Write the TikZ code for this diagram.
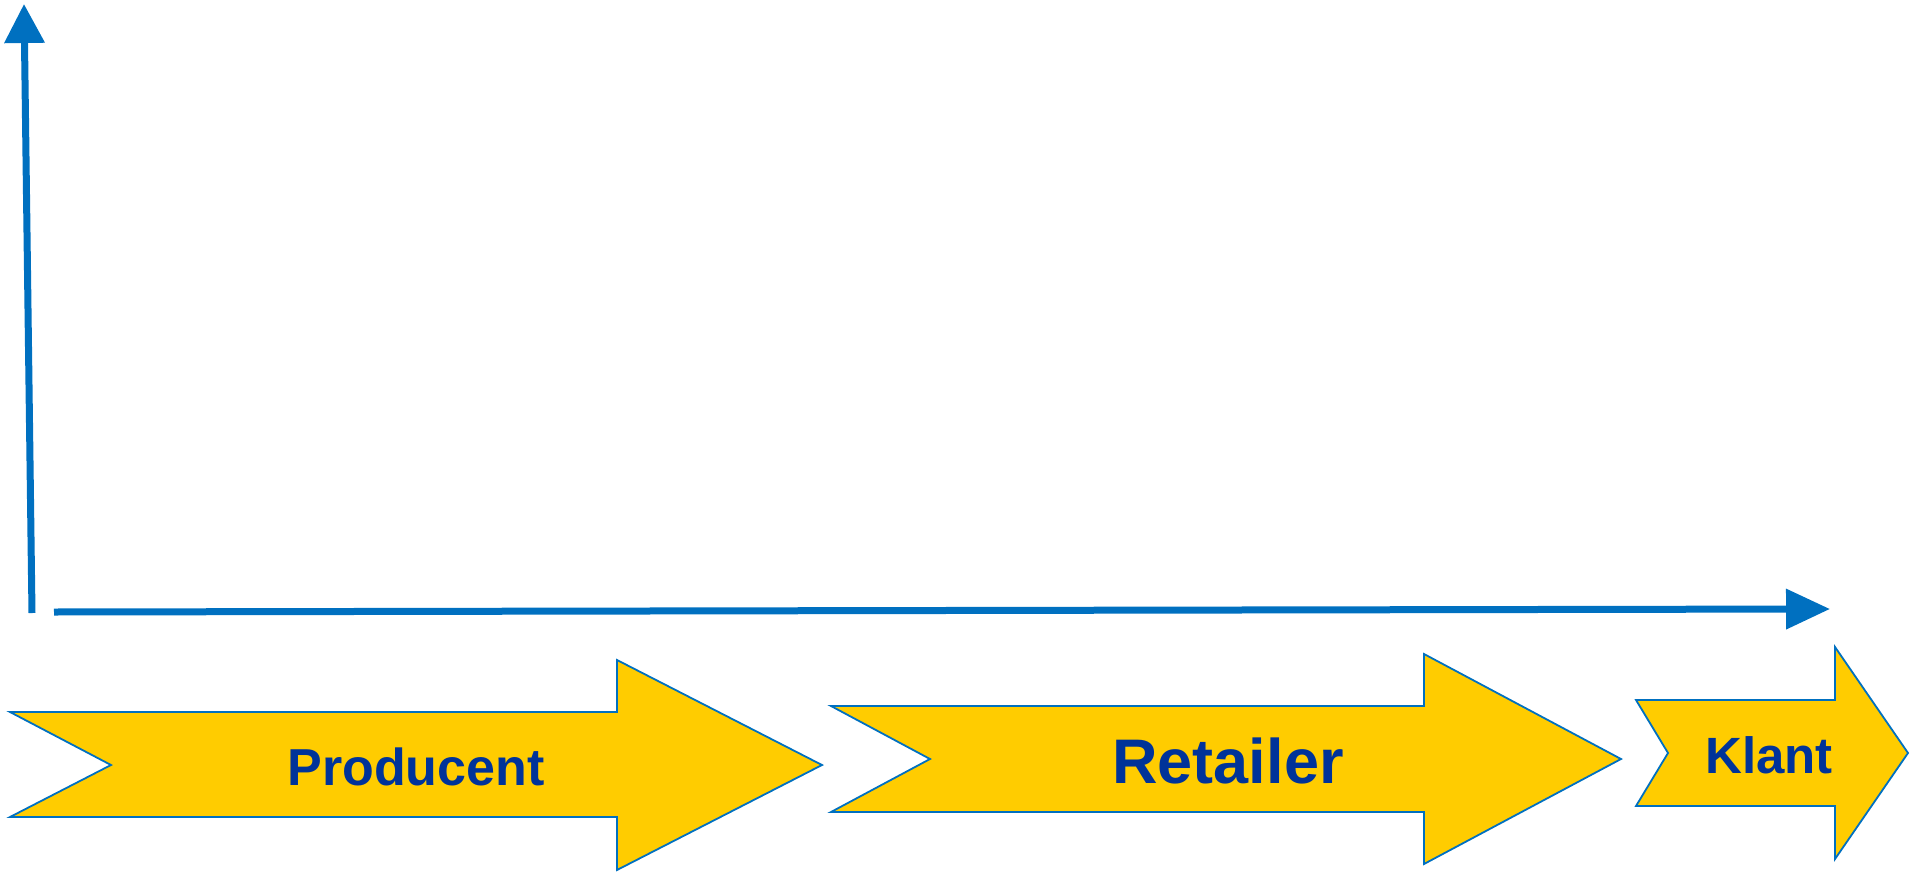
\documentclass[tikz,border=0pt]{standalone}
\usepackage{fontspec}
\setmainfont{Liberation Sans}
\usepackage{tikz}
\usetikzlibrary{arrows.meta}
\usepackage{xcolor}
\definecolor{axisblue}{HTML}{0070C0}
\definecolor{bandyellow}{HTML}{FFCC00}
\definecolor{labelblue}{HTML}{003399}

\begin{document}
\begin{tikzpicture}[x=1pt,y=-1pt,
        axis/.style={draw=axisblue, line width=7pt, -{Triangle[width=39pt,length=#1]}},
        band/.style={draw=axisblue, line width=1.8pt, fill=bandyellow, line join=miter},
        bandlabel/.style={anchor=base, inner sep=0pt, text=labelblue,
            font=\bfseries\fontsize{#1}{#1}\selectfont}]
            \useasboundingbox (0,0) rectangle (1913,872);

            % Axes
            \coordinate (yfoot) at (32,613);
            \coordinate (ytop) at (24,4);
            \coordinate (xfoot) at (54,612);
            \coordinate (xend) at (1830,609);
            \draw[axis=39pt] (yfoot) -- (ytop);
            \draw[axis=44pt] (xfoot) -- (xend);

            % Chain arrows
            \draw[band] (10,712) -- (617,712) -- (617,660) -- (822,765) -- (617,870)
                -- (617,817) -- (10,817) -- (111,765) -- cycle;
            \draw[band] (831,706) -- (1424,706) -- (1424,654) -- (1621,759) -- (1424,864)
                -- (1424,812) -- (831,812) -- (930,759) -- cycle;
            \draw[band] (1636,700) -- (1835,700) -- (1835,647) -- (1908,753) -- (1835,859)
                -- (1835,806) -- (1636,806) -- (1668,753) -- cycle;

            % Labels
            \node[bandlabel=52] (producent) at (416,785) {Producent};
            \node[bandlabel=63] (retailer) at (1228,783) {Retailer};
            \node[bandlabel=51] (klant) at (1769,773) {Klant};
        \end{tikzpicture}
\end{document}
